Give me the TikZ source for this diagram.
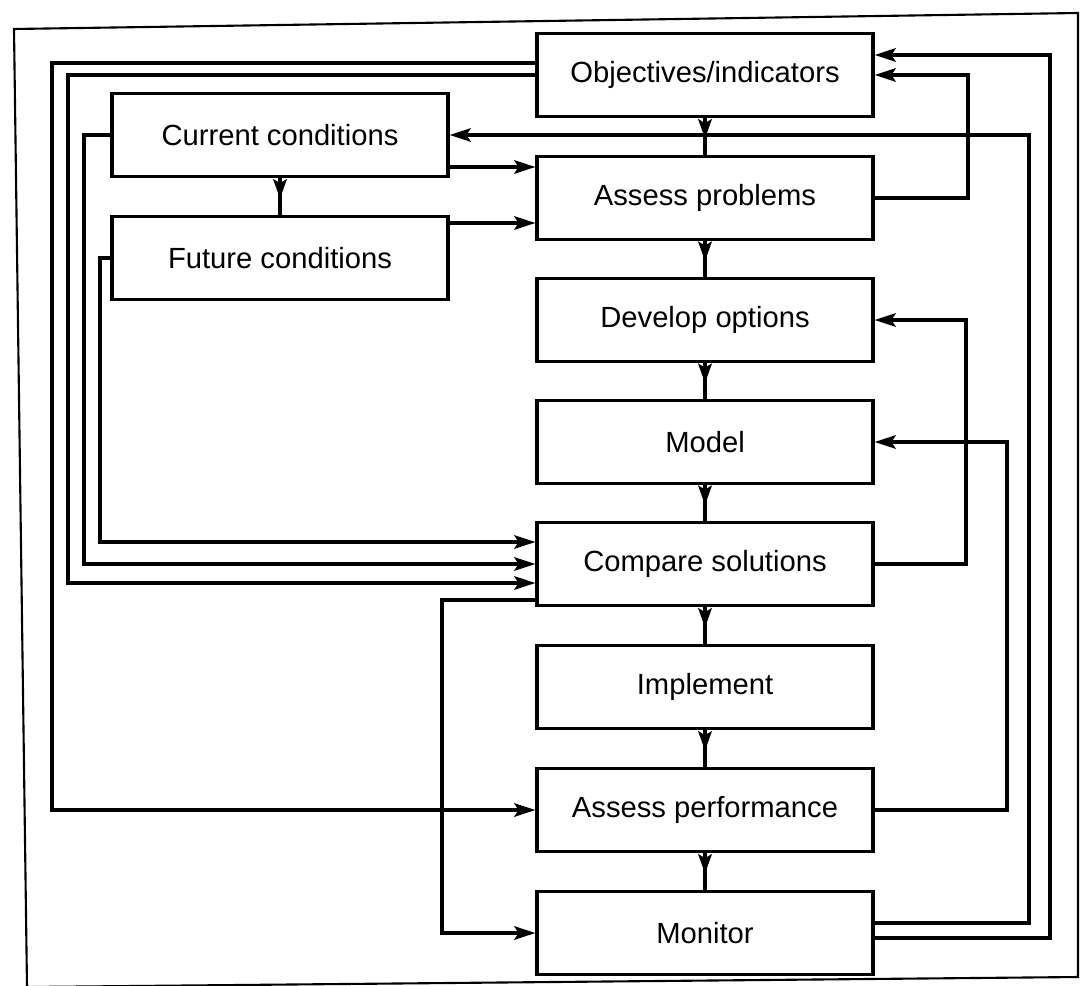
\documentclass[tikz,border=0pt]{standalone}
\usepackage{fontspec}
\setmainfont{Liberation Sans}
\usetikzlibrary{arrows.meta,decorations.markings}

\begin{document}
\begin{tikzpicture}[x=0.01cm, y=-0.01cm,
		box/.style={draw, line width=1.1pt, minimum width=3.35cm, minimum height=0.83cm, inner sep=0pt, font=\fontsize{8.3}{10}\selectfont},
		link/.style={line width=1.05pt, -{Stealth[length=6pt, width=3.8pt, inset=1.2pt]}},
		flow/.style={line width=1.05pt, postaction={decorate}, decoration={markings, mark=at position 0.56 with {\arrow{Stealth[length=5.5pt, width=3.8pt, inset=1.1pt]}}}}]
		\useasboundingbox (0,0) rectangle (1080,985);

		% Ramme
		\draw[line width=0.6pt] (14,29) -- (1078,13) -- (1078,977) -- (27,987) -- cycle;

		% Hovedkolonne
		\node[box] (obj) at (705,75) {Objectives/indicators};
		\node[box] (ap) at (705,198) {Assess problems};
		\node[box] (dev) at (705,320) {Develop options};
		\node[box] (mod) at (705,442) {Model};
		\node[box] (cmp) at (705,564) {Compare solutions};
		\node[box] (imp) at (705,687) {Implement};
		\node[box] (aperf) at (705,810) {Assess performance};
		\node[box] (mon) at (705,933) {Monitor};

		% Forhold
		\node[box] (cur) at (280,135) {Current conditions};
		\node[box] (fut) at (280,258) {Future conditions};

		% Piler nedover
		\draw[flow] (obj) -- (ap);
		\draw[flow] (ap) -- (dev);
		\draw[flow] (dev) -- (mod);
		\draw[flow] (mod) -- (cmp);
		\draw[flow] (cmp) -- (imp);
		\draw[flow] (imp) -- (aperf);
		\draw[flow] (aperf) -- (mon);
		\draw[flow] (cur) -- (fut);

		% Forhold til problemvurdering
		\draw[link] (cur.east |- 0,167) -- (ap.west |- 0,167);
		\draw[link] (fut.east |- 0,223) -- (ap.west |- 0,223);

		% Tilbakekobling til hoyre
		\draw[link] (ap.east) -- (968,198) |- (obj.east);
		\draw[link] (mon.east |- 0,938) -- (1050,938) |- (obj.east |- 0,55);
		\draw[link] (mon.east |- 0,923) -- (1029,923) |- (cur.east);
		\draw[link] (cmp.east) -- (966,564) |- (dev.east);
		\draw[link] (aperf.east) -- (1007,810) |- (mod.east);

		% Linjer til venstre
		\draw[link] (obj.west |- 0,63) -- (52,63) |- (aperf.west);
		\draw[link] (obj.west) -- (68,75) |- (cmp.west |- 0,583);
		\draw[link] (cur.west) -- (84,135) |- (cmp.west);
		\draw[link] (fut.west) -- (100,258) |- (cmp.west |- 0,542);
		\draw[link] (cmp.west |- 0,600) -- (442,600) |- (mon.west);
	\end{tikzpicture}
\end{document}
